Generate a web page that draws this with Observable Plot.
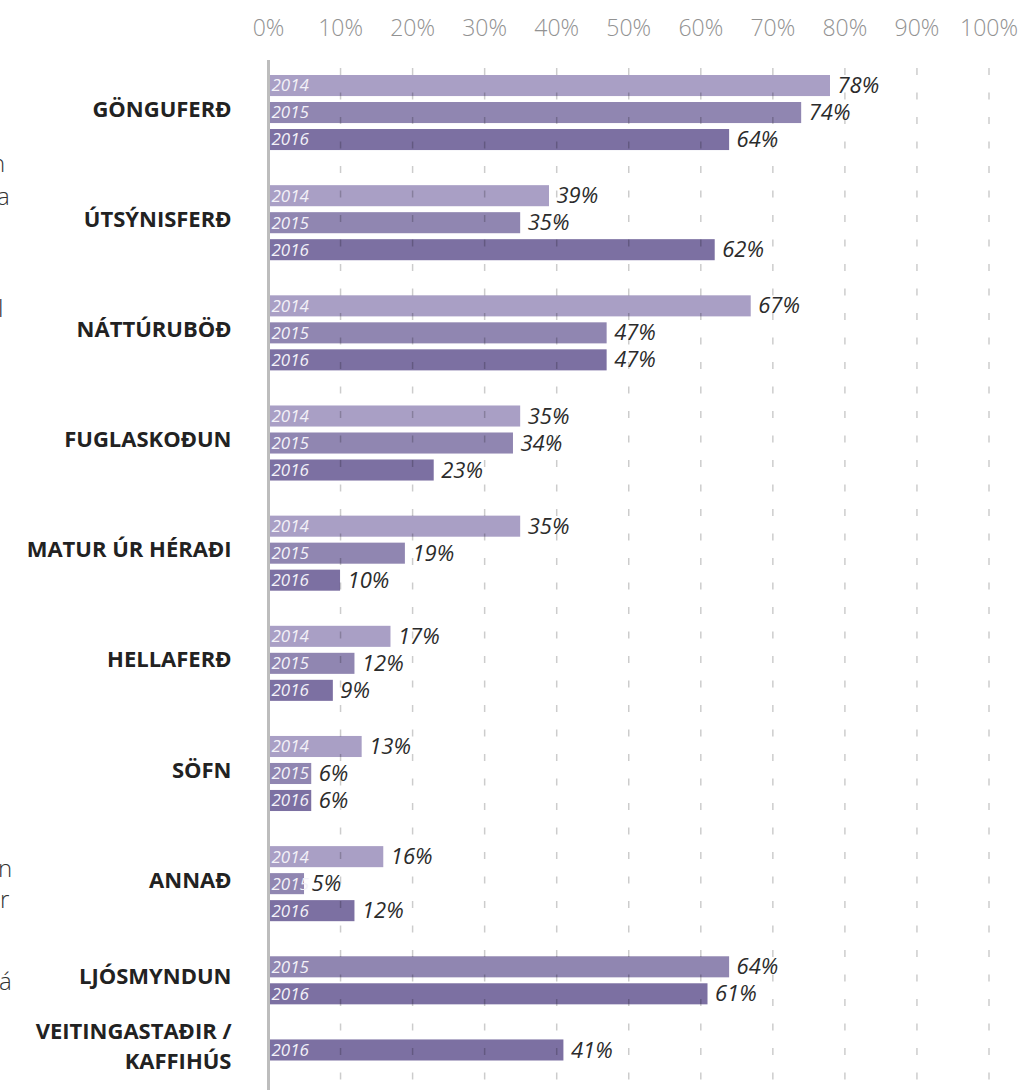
<!DOCTYPE html>
<html>
<head>
<meta charset="utf-8">
<script src="https://cdn.jsdelivr.net/npm/d3@7"></script>
<script src="https://cdn.jsdelivr.net/npm/@observablehq/plot@0.6"></script>
<style>
  html, body { margin: 0; padding: 0; background: #fff; }
  body { width: 1018px; height: 1090px; overflow: hidden; position: relative; font-family: "Open Sans", sans-serif; }
  #chart { position: absolute; left: 0; top: 0; }
  .frag { position: absolute; font-family: "Open Sans", sans-serif; font-weight: 300; font-size: 24px; line-height: 24px; color: #333; white-space: nowrap; }
</style>
</head>
<body>
<div id="chart"></div>
<div class="frag" style="left:-9px; top:151px;">n</div>
<div class="frag" style="left:-3px; top:184px;">a</div>
<div class="frag" style="left:-2px; top:296px;">l</div>
<div class="frag" style="left:-2px; top:856px;">n</div>
<div class="frag" style="left:0px; top:887px;">r</div>
<div class="frag" style="left:-1px; top:969px;">á</div>
<script>
// ---- data ----
const categories = ["GÖNGUFERÐ", "ÚTSÝNISFERÐ", "NÁTTÚRUBÖÐ", "FUGLASKOÐUN", "MATUR ÚR HÉRAÐI",
                    "HELLAFERÐ", "SÖFN", "ANNAÐ", "LJÓSMYNDUN", "VEITINGASTAÐIR /\nKAFFIHÚS"];
const years = ["2014", "2015", "2016"];
const yearColors = ["#a99fc5", "#9086b1", "#7c70a2"];
const v2014 = [78, 39, 67, 35, 35, 17, 13, 16, null, null];
const v2015 = [74, 35, 47, 34, 19, 12, 6, 5, 64, null];
const v2016 = [64, 62, 47, 23, 10, 9, 6, 12, 61, 41];
const xTicks = [0, 10, 20, 30, 40, 50, 60, 70, 80, 90, 100];
const gridTicks = xTicks.slice(1);

// ---- layout of rows (in row units) ----
const series = [v2014, v2015, v2016];
const BAR = 0.78, GROUP_GAP = 1.08;
const rows = [];
const groups = [];
let n = 0;
categories.forEach((c, k) => {
  const start = n + GROUP_GAP * k;
  years.forEach((yr, j) => {
    const v = series[j][k];
    if (v == null) return;
    const y1 = n + GROUP_GAP * k;
    rows.push({category: c, year: yr, value: v, y1, y2: y1 + BAR, ym: y1 + BAR / 2});
    n++;
  });
  const end = n - 1 + GROUP_GAP * k + BAR;
  groups.push({category: c, ym: (start + end) / 2});
});

const plot = Plot.plot({
  width: 1018,
  height: 1090,
  marginLeft: 268,
  marginRight: 29.5,
  marginTop: 60,
  marginBottom: 0,
  x: {domain: [0, 100], label: null},
  y: {type: "linear", domain: [0, 40], range: [75, 75 + 40 * 27], axis: null},
  color: {domain: years, range: yearColors},
  style: {fontFamily: "Open Sans, sans-serif", background: "#fff", overflow: "visible"},
  marks: [
    Plot.axisX({anchor: "top", ticks: xTicks, tickSize: 0, tickPadding: 25,
                tickFormat: d => d + "%", fontSize: 23, fontWeight: 300, color: "#929292", label: null}),
    Plot.rect(rows, {x1: 0, x2: "value", y1: "y1", y2: "y2", fill: "year"}),
    Plot.ruleX(gridTicks, {stroke: "#000", strokeOpacity: 0.2, strokeWidth: 1.5,
                           strokeDasharray: "7 17.5", strokeDashoffset: -8}),
    Plot.ruleX([0], {stroke: "#bdbdbd", strokeWidth: 3}),
    Plot.text(rows, {x: 0, y: "ym", text: "year", textAnchor: "start", lineAnchor: "middle", dx: 3,
                     fontSize: 17, fontStyle: "italic", fontWeight: 400, fill: "#f3f1f8", ariaLabel: "year-labels"}),
    Plot.text(rows, {x: "value", y: "ym", text: d => d.value + "%", textAnchor: "start", lineAnchor: "middle",
                     dx: 7, fontSize: 22, fontStyle: "italic", fill: "#2b2b2b"}),
    Plot.text(groups, {x: 0, y: "ym", text: "category", textAnchor: "end", lineAnchor: "middle",
                       dx: -37, dy: -6, fontSize: 22, fontWeight: 700, fill: "#222", lineHeight: 1.36})
  ]
});
document.getElementById("chart").appendChild(plot);

// clip year labels to their bars (clip rect expressed in each text's own user space)
const xs = plot.scale("x"), ys = plot.scale("y");
const defs = d3.select(plot).append("defs");
const svgCTM = plot.getScreenCTM();
d3.select(plot).select('g[aria-label="year-labels"]').selectAll("text").each(function(_, i) {
  const r = rows[i];
  const m = this.getScreenCTM();
  const ox = m.e - svgCTM.e, oy = m.f - svgCTM.f;
  const id = "yclip" + i;
  const x0 = xs.apply(0), x1 = xs.apply(r.value);
  const y0 = ys.apply(r.y1), y1 = ys.apply(r.y2);
  defs.append("clipPath").attr("id", id).append("rect")
    .attr("x", x0 - ox).attr("y", y0 - oy)
    .attr("width", x1 - x0).attr("height", y1 - y0);
  d3.select(this).attr("clip-path", `url(#${id})`);
});
</script>
</body>
</html>
